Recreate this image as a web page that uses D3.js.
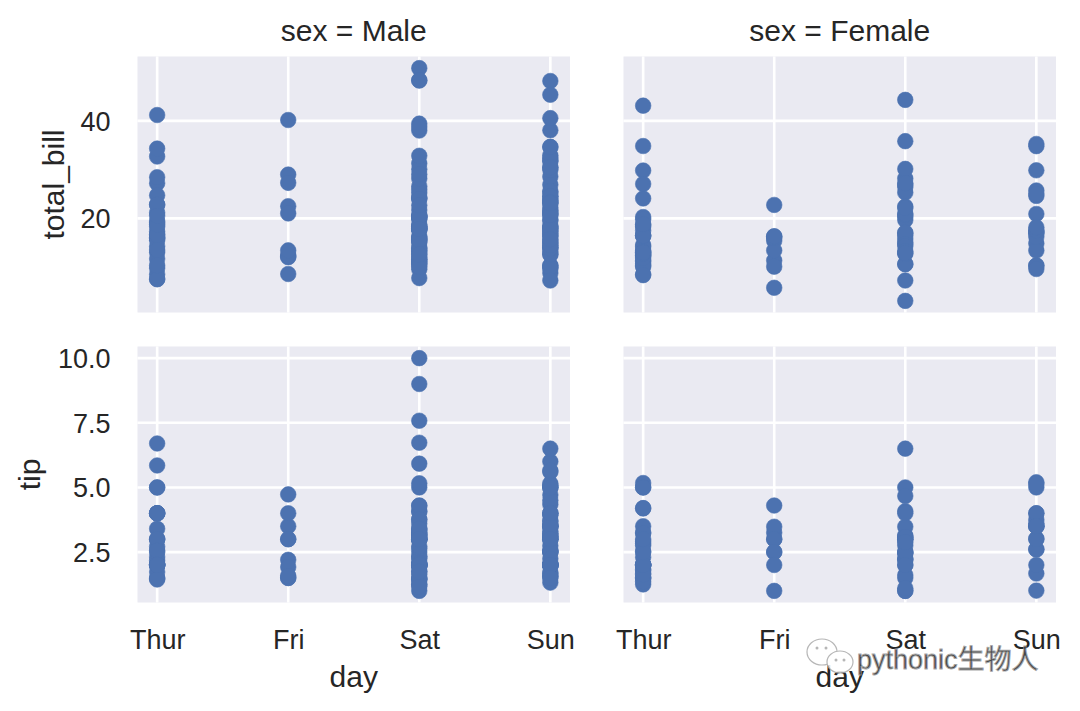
<!DOCTYPE html>
<html>
<head>
<meta charset="utf-8">
<script src="https://cdn.jsdelivr.net/npm/d3@7"></script>
<style>
  html, body { margin: 0; padding: 0; background: #fff; }
  svg { display: block; }
  text { font-family: "Liberation Sans", Arial, Helvetica, sans-serif; fill: #262626; }
</style>
</head>
<body>
<svg id="chart" width="1080" height="711"></svg>
<script>
// ---- categories / labels ----
const days = ["Thur", "Fri", "Sat", "Sun"];
const sexes = ["Male", "Female"];
const rowVars = ["total_bill", "tip"];
const billTicks = [20, 40];
const tipTicks = [2.5, 5.0, 7.5, 10.0];

// ---- data (tips dataset, grouped by sex and day) ----
const maleThurBill = [27.20, 22.76, 17.29, 19.44, 16.66, 32.68, 15.98, 13.03, 18.28, 24.71, 21.16, 11.69, 14.26, 15.95, 8.52, 22.82, 19.08, 16.00, 34.30, 41.19, 9.78, 7.51, 28.44, 15.48, 16.58, 7.56, 10.34, 13.51, 18.71, 20.53];
const maleThurTip  = [4.00, 3.00, 2.71, 3.00, 3.40, 5.00, 2.03, 2.00, 4.00, 5.85, 3.00, 2.31, 2.50, 2.00, 1.48, 2.18, 1.50, 2.00, 6.70, 5.00, 1.73, 2.00, 2.56, 2.02, 4.00, 1.44, 2.00, 2.00, 4.00, 4.00];

const maleFriBill = [28.97, 22.49, 40.17, 27.28, 12.03, 21.01, 12.46, 12.16, 8.58, 13.42];
const maleFriTip  = [3.00, 3.50, 4.73, 4.00, 1.50, 3.00, 1.50, 2.20, 1.92, 1.58];

const maleSatBill = [20.65, 17.92, 39.42, 19.82, 17.81, 13.37, 12.69, 21.70, 9.55, 18.35, 17.78, 24.06, 16.31, 18.69, 31.27, 16.04, 38.01, 11.24, 48.27, 20.29, 13.81, 11.02, 18.29, 17.59, 20.08, 20.23, 15.01, 12.02, 10.51, 17.92, 15.36, 20.49, 25.21, 18.24, 14.00, 50.81, 15.81, 26.59, 38.73, 24.27, 30.06, 25.89, 48.33, 28.15, 11.59, 7.74, 20.45, 13.28, 24.01, 15.69, 11.61, 10.77, 15.53, 10.07, 12.60, 32.83, 29.03, 22.67, 17.82];
const maleSatTip  = [3.35, 4.08, 7.58, 3.18, 2.34, 2.00, 2.00, 4.30, 1.45, 2.50, 3.27, 3.60, 2.00, 2.31, 5.00, 2.24, 3.00, 1.76, 6.73, 3.21, 2.00, 1.98, 3.76, 2.64, 3.15, 2.01, 2.09, 1.97, 1.25, 3.08, 1.64, 4.06, 4.29, 3.76, 3.00, 10.00, 3.16, 3.41, 3.00, 2.03, 2.00, 5.16, 9.00, 3.00, 1.50, 1.44, 3.00, 2.72, 2.00, 3.00, 3.39, 1.47, 3.00, 1.25, 1.00, 1.17, 5.92, 2.00, 1.75];

const maleSunBill = [10.34, 21.01, 23.68, 25.29, 8.77, 26.88, 15.04, 14.78, 10.27, 15.42, 18.43, 21.58, 16.29, 17.46, 13.94, 9.68, 30.40, 18.29, 22.23, 32.40, 28.55, 18.04, 12.54, 9.94, 25.56, 19.49, 38.07, 23.95, 29.93, 14.07, 13.13, 17.26, 24.55, 19.77, 48.17, 16.49, 21.50, 12.66, 13.81, 24.52, 20.76, 31.71, 7.25, 31.85, 16.82, 32.90, 17.89, 14.48, 34.63, 34.65, 23.33, 45.35, 23.17, 40.55, 20.69, 30.46, 23.10, 15.69];
const maleSunTip  = [1.66, 3.50, 3.31, 4.71, 2.00, 3.12, 1.96, 3.23, 1.71, 1.57, 3.00, 3.92, 3.71, 2.54, 3.06, 1.32, 5.60, 3.00, 5.00, 6.00, 2.05, 3.00, 2.50, 1.56, 4.34, 3.51, 4.00, 2.55, 5.07, 2.50, 2.00, 2.74, 2.00, 2.00, 5.00, 2.00, 3.50, 2.50, 2.00, 3.48, 2.24, 4.50, 5.15, 3.18, 4.00, 3.11, 2.00, 2.00, 3.55, 3.68, 5.65, 3.50, 6.50, 3.00, 5.00, 2.00, 4.00, 1.50];

const femaleThurBill = [10.07, 34.83, 10.65, 12.43, 24.08, 13.42, 12.48, 29.80, 14.52, 11.38, 20.27, 11.17, 12.26, 18.26, 8.51, 10.33, 14.15, 13.16, 17.47, 27.05, 16.43, 8.35, 18.64, 11.87, 19.81, 43.11, 13.00, 12.74, 13.00, 16.40, 16.47, 18.78];
const femaleThurTip  = [1.83, 5.17, 1.50, 1.80, 2.92, 1.68, 2.52, 4.20, 2.00, 2.00, 2.83, 1.50, 2.00, 3.25, 1.25, 2.00, 2.00, 2.75, 3.50, 5.00, 2.30, 1.50, 1.36, 1.63, 4.19, 5.00, 2.00, 2.01, 2.00, 2.50, 3.23, 3.00];

const femaleFriBill = [5.75, 16.32, 22.75, 11.35, 15.38, 13.42, 15.98, 16.27, 10.09];
const femaleFriTip  = [1.00, 4.30, 3.25, 2.50, 3.00, 3.48, 3.00, 2.50, 2.00];

const femaleSatBill = [20.29, 15.77, 19.65, 15.06, 20.69, 16.93, 26.41, 16.45, 3.07, 17.07, 26.86, 25.28, 14.73, 44.30, 22.42, 20.92, 14.31, 7.25, 10.59, 10.63, 12.76, 13.27, 28.17, 12.90, 30.14, 22.12, 35.83, 27.18];
const femaleSatTip  = [2.75, 2.23, 3.00, 3.00, 2.45, 3.07, 1.50, 2.47, 1.00, 3.00, 3.14, 5.00, 2.20, 2.50, 3.48, 4.08, 4.00, 1.00, 1.61, 2.00, 2.23, 2.50, 6.50, 1.10, 3.09, 2.88, 4.67, 2.00];

const femaleSunBill = [16.99, 24.59, 35.26, 14.83, 10.33, 16.97, 10.29, 34.81, 25.71, 17.31, 29.85, 25.00, 13.39, 16.21, 17.51, 9.60, 20.90, 18.15];
const femaleSunTip  = [1.01, 3.61, 5.00, 3.02, 1.67, 3.50, 2.60, 5.20, 4.00, 3.50, 5.14, 3.75, 2.61, 2.00, 3.00, 4.00, 3.50, 3.50];

// ---- assemble long-form rows ----
const groups = [
  ["Male", "Thur", maleThurBill, maleThurTip],
  ["Male", "Fri", maleFriBill, maleFriTip],
  ["Male", "Sat", maleSatBill, maleSatTip],
  ["Male", "Sun", maleSunBill, maleSunTip],
  ["Female", "Thur", femaleThurBill, femaleThurTip],
  ["Female", "Fri", femaleFriBill, femaleFriTip],
  ["Female", "Sat", femaleSatBill, femaleSatTip],
  ["Female", "Sun", femaleSunBill, femaleSunTip]
];
const rows = [];
groups.forEach(([sex, day, bills, tips]) => {
  bills.forEach((b, i) => rows.push({ sex, day, total_bill: b, tip: tips[i] }));
});

// ---- layout ----
const svg = d3.select("#chart");
const colX = [[137.5, 570], [623.5, 1056]];
const rowY = [[56.5, 312.5], [346.5, 602.5]];
const bg = "#EAEAF2";
const dotColor = "#4C72B0";
const R = 7.8;

function padDomain(vals) {
  const [lo, hi] = d3.extent(vals);
  const m = (hi - lo) * 0.05;
  return [lo - m, hi + m];
}
const yDomains = {
  total_bill: padDomain(rows.map(d => d.total_bill)),
  tip: padDomain(rows.map(d => d.tip))
};
const yTicks = { total_bill: billTicks, tip: tipTicks };
const yFormat = { total_bill: d3.format("d"), tip: d3.format(".1f") };

rowVars.forEach((v, ri) => {
  sexes.forEach((sex, ci) => {
    const [x0, x1] = colX[ci];
    const [y0, y1] = rowY[ri];
    const x = d3.scalePoint().domain(days).range([x0, x1]).padding(0.15);
    const y = d3.scaleLinear().domain(yDomains[v]).range([y1, y0]);
    const g = svg.append("g");

    g.append("rect").attr("x", x0).attr("y", y0)
      .attr("width", x1 - x0).attr("height", y1 - y0).attr("fill", bg);

    // grid lines
    g.selectAll("line.h").data(yTicks[v]).join("line")
      .attr("x1", x0).attr("x2", x1)
      .attr("y1", d => y(d)).attr("y2", d => y(d))
      .attr("stroke", "#fff").attr("stroke-width", 2.6);
    g.selectAll("line.v").data(days).join("line")
      .attr("x1", d => x(d)).attr("x2", d => x(d))
      .attr("y1", y0).attr("y2", y1)
      .attr("stroke", "#fff").attr("stroke-width", 2.6);

    // points
    g.selectAll("circle").data(rows.filter(d => d.sex === sex)).join("circle")
      .attr("cx", d => x(d.day)).attr("cy", d => y(d[v]))
      .attr("r", R).attr("fill", dotColor)
      .attr("stroke", dotColor).attr("stroke-width", 0.6);

    // y axis tick labels (left column only)
    if (ci === 0) {
      const ay = d3.axisLeft(y).tickValues(yTicks[v]).tickFormat(yFormat[v])
        .tickSize(0).tickPadding(27);
      const ga = g.append("g").attr("transform", `translate(${x0},0)`).call(ay);
      ga.select(".domain").remove();
      ga.selectAll("text").style("font-size", "27px")
        .style("font-family", '"Liberation Sans", Arial, sans-serif')
        .attr("fill", "#262626").attr("dy", "0.35em");
      g.append("text")
        .attr("transform", `translate(${ri === 0 ? 63.5 : 39.5},${(y0 + y1) / 2}) rotate(-90)`)
        .attr("text-anchor", "middle").style("font-size", "30px").text(v);
    }
    // x axis tick labels (bottom row only)
    if (ri === 1) {
      const ax = d3.axisBottom(x).tickSize(0).tickPadding(0);
      const gx = g.append("g").attr("transform", `translate(0,${y1})`).call(ax);
      gx.select(".domain").remove();
      gx.selectAll("text").style("font-size", "27px")
        .style("font-family", '"Liberation Sans", Arial, sans-serif')
        .attr("fill", "#262626").attr("y", 46).attr("dy", 0);
      g.append("text").attr("x", (x0 + x1) / 2).attr("y", 687)
        .attr("text-anchor", "middle").style("font-size", "30px").text("day");
    }
    // column titles
    if (ri === 0) {
      g.append("text").attr("x", (x0 + x1) / 2).attr("y", 41)
        .attr("text-anchor", "middle").style("font-size", "30px")
        .text("sex = " + sex);
    }
  });
});

// ---- watermark ----
const wm = svg.append("g").attr("opacity", 0.85);
wm.append("ellipse").attr("cx", 822).attr("cy", 652).attr("rx", 15).attr("ry", 13)
  .attr("fill", "#fff").attr("stroke", "#aaa").attr("stroke-width", 1.2);
wm.append("ellipse").attr("cx", 840).attr("cy", 662).attr("rx", 13).attr("ry", 11)
  .attr("fill", "#fff").attr("stroke", "#aaa").attr("stroke-width", 1.2);
[[817, 648], [826, 648], [836, 660], [844, 660]].forEach(([cx, cy]) =>
  wm.append("circle").attr("cx", cx).attr("cy", cy).attr("r", 1.5).attr("fill", "#aaa"));
wm.append("text").attr("x", 857).attr("y", 669)
  .style("font-size", "27px")
  .style("font-family", '"Liberation Sans", "Noto Sans CJK SC", sans-serif')
  .attr("fill", "#fff").attr("stroke", "#999").attr("stroke-width", 0.9)
  .text("pythonic生物人");
</script>
</body>
</html>
